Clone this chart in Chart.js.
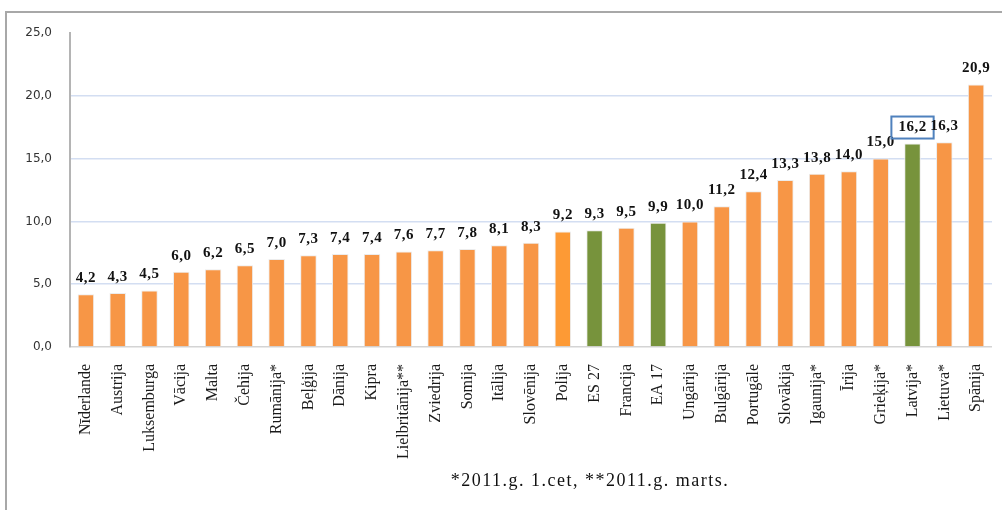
<!DOCTYPE html>
<html>
<head>
<meta charset="utf-8">
<script src="https://cdn.jsdelivr.net/npm/chart.js@4.4.0/dist/chart.umd.min.js"></script>
<style>
  html, body { margin: 0; padding: 0; background: #fff; }
  #wrap { position: relative; width: 1002px; height: 510px; }
  #frame { position: absolute; left: 5px; top: 11px; right: 0; bottom: 0;
           border-left: 2px solid #a8a8a8; border-top: 2px solid #a8a8a8; }
  canvas { position: absolute; left: 0; top: 0; }
</style>
</head>
<body>
<div id="wrap">
  <div id="frame"></div>
  <canvas id="myChart" width="1002" height="510"></canvas>
</div>
<script>
window.addEventListener('DOMContentLoaded', (event) => {

    // valstis (sakārtotas pēc vērtības)
    var countries = ['Nīderlande', 'Austrija', 'Luksemburga', 'Vācija', 'Malta', 'Čehija', 'Rumānija*',
        'Beļģija', 'Dānija', 'Kipra', 'Lielbritānija**', 'Zviedrija', 'Somija', 'Itālija', 'Slovēnija',
        'Polija', 'ES 27', 'Francija', 'EA 17', 'Ungārija', 'Bulgārija', 'Portugāle', 'Slovākija',
        'Igaunija*', 'Īrija', 'Grieķija*', 'Latvija*', 'Lietuva*', 'Spānija'];
    var values = [4.2, 4.3, 4.5, 6.0, 6.2, 6.5, 7.0, 7.3, 7.4, 7.4, 7.6, 7.7, 7.8, 8.1, 8.3,
        9.2, 9.3, 9.5, 9.9, 10.0, 11.2, 12.4, 13.3, 13.8, 14.0, 15.0, 16.2, 16.3, 20.9];
    var yTicks = [0, 5, 10, 15, 20, 25];
    var greenBars = ['ES 27', 'EA 17', 'Latvija*'];
    var brightBars = ['Polija'];
    var boxedLabel = 'Latvija*';
    var footnote = '*2011.g. 1.cet, **2011.g. marts.';

    function fmt(v) {
        return v.toFixed(1).replace('.', ',');
    }

    var barColors = countries.map(function (c) {
        if (greenBars.indexOf(c) >= 0) return '#77933c';
        if (brightBars.indexOf(c) >= 0) return '#fd9a35';
        return '#f79646';
    });

    // vērtību uzraksti virs stabiņiem
    var valueLabels = {
        id: 'valueLabels',
        afterDatasetsDraw: function (chart) {
            var ctx = chart.ctx;
            var meta = chart.getDatasetMeta(0);
            ctx.save();
            ctx.font = 'bold 15px "Liberation Serif", serif';
            ctx.letterSpacing = '0.5px';
            ctx.fillStyle = '#111';
            ctx.textAlign = 'center';
            ctx.textBaseline = 'middle';
            meta.data.forEach(function (bar, i) {
                var txt = fmt(values[i]);
                var y = bar.y - 16;
                ctx.fillText(txt, bar.x, y);
                if (countries[i] === boxedLabel) {
                    var w = ctx.measureText(txt).width + 14;
                    ctx.strokeStyle = '#4f81bd';
                    ctx.lineWidth = 2;
                    ctx.strokeRect(bar.x - w / 2, y - 11, w, 22);
                }
            });
            ctx.restore();
        }
    };

    var footnoteText = {
        id: 'footnoteText',
        afterDraw: function (chart) {
            var ctx = chart.ctx;
            ctx.save();
            ctx.font = '18px "Liberation Serif", serif';
            ctx.letterSpacing = '1.5px';
            ctx.fillStyle = '#111';
            ctx.textAlign = 'center';
            ctx.textBaseline = 'alphabetic';
            ctx.fillText(footnote, 590, 486);
            ctx.restore();
        }
    };

    var ctx = document.getElementById('myChart').getContext('2d');
    var myChart = new Chart(ctx, {
        type: 'bar',
        data: {
            labels: countries,
            datasets: [{
                data: values,
                backgroundColor: barColors,
                borderColor: '#ececec',
                borderWidth: 1,
                barPercentage: 0.52,
                categoryPercentage: 1.0
            }]
        },
        options: {
            responsive: false,
            animation: false,
            layout: {
                padding: { left: 6, top: 33, right: 10, bottom: 0 }
            },
            scales: {
                x: {
                    grid: { display: false, drawTicks: false },
                    border: { display: false },
                    afterFit: function (scale) {
                        scale.height = 163;
                        scale.paddingLeft = 0;
                        scale.paddingRight = 0;
                    },
                    ticks: {
                        autoSkip: false,
                        minRotation: 90,
                        maxRotation: 90,
                        padding: 17,
                        color: '#1a1a1a',
                        font: { family: '"Liberation Serif", serif', size: 16 }
                    }
                },
                y: {
                    min: 0,
                    max: 25,
                    afterFit: function (scale) { scale.width = 64; },
                    afterBuildTicks: function (scale) {
                        scale.ticks = yTicks.map(function (v) { return { value: v }; });
                    },
                    border: { color: '#b4b4b4', width: 2 },
                    grid: {
                        drawTicks: false,
                        lineWidth: 1.5,
                        color: function (c) {
                            if (c.tick.value === 0) return '#d4d4d4';
                            if (c.tick.value === 25) return 'rgba(0,0,0,0)';
                            return '#d3def2';
                        }
                    },
                    ticks: {
                        padding: 18,
                        color: '#333',
                        font: { family: '"DejaVu Sans", sans-serif', size: 12 },
                        callback: function (v) { return fmt(v); }
                    }
                }
            },
            plugins: {
                legend: { display: false },
                tooltip: { enabled: false }
            }
        },
        plugins: [valueLabels, footnoteText]
    });

});
</script>
</body>
</html>
